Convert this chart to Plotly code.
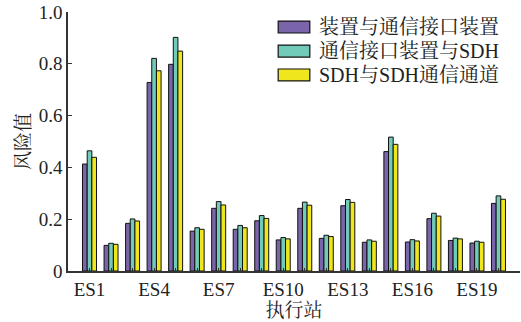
import plotly.graph_objects as go

stations = [f"ES{i}" for i in range(1, 21)]
positions = list(range(1, 21))

series_names = ["装置与通信接口装置", "通信接口装置与SDH", "SDH与SDH通信通道"]
device_iface = [0.413, 0.099, 0.184, 0.728, 0.798, 0.154, 0.242, 0.161, 0.194, 0.120,
                0.242, 0.126, 0.252, 0.111, 0.461, 0.112, 0.202, 0.118, 0.108, 0.261]
iface_sdh = [0.464, 0.107, 0.201, 0.821, 0.902, 0.167, 0.268, 0.176, 0.214, 0.129,
             0.266, 0.138, 0.276, 0.120, 0.517, 0.121, 0.223, 0.127, 0.115, 0.290]
sdh_channel = [0.439, 0.103, 0.193, 0.773, 0.849, 0.161, 0.255, 0.167, 0.203, 0.124,
               0.254, 0.133, 0.265, 0.115, 0.489, 0.116, 0.212, 0.124, 0.111, 0.277]
colors = ["#7B65AA", "#72CBB9", "#F0E61E"]

tick_text = [s if (i % 3 == 0) else "" for i, s in enumerate(stations)]

font_family = "Liberation Serif, Noto Serif CJK SC, Noto Sans CJK SC"

fig = go.Figure()
for name, vals, col in zip(series_names, [device_iface, iface_sdh, sdh_channel], colors):
    fig.add_trace(go.Bar(
        x=positions, y=vals, name=name, showlegend=False,
        marker=dict(color=col, line=dict(color="#111111", width=1)),
    ))

# Legend drawn as wide rectangular swatches with labels (paper coordinates)
legend_rows_y = [0.942, 0.849, 0.757]
sw_x0, sw_x1, sw_h = 0.465, 0.535, 0.046
for name, col, yc in zip(series_names, colors, legend_rows_y):
    fig.add_shape(type="rect", xref="paper", yref="paper",
                  x0=sw_x0, x1=sw_x1, y0=yc - sw_h / 2, y1=yc + sw_h / 2,
                  fillcolor=col, line=dict(color="#111111", width=1.2))
    fig.add_annotation(xref="paper", yref="paper", x=0.551, y=yc,
                       xanchor="left", yanchor="middle", showarrow=False,
                       text=name, font=dict(family=font_family, size=20, color="#222222"))

fig.update_layout(
    width=521, height=322,
    margin=dict(l=68, r=1, t=12, b=51),
    paper_bgcolor="white", plot_bgcolor="white",
    barmode="group", bargap=0.35, bargroupgap=0,
    font=dict(family=font_family, size=19, color="#222222"),
    xaxis=dict(
        range=[0, 21], tickmode="array", tickvals=positions, ticktext=tick_text,
        ticks="inside", ticklen=3, tickcolor="#333333",
        showline=True, linecolor="#333333", linewidth=1.5,
        showgrid=False, zeroline=False,
        tickfont=dict(family=font_family, size=19),
        title=dict(text="执行站", standoff=0, font=dict(family=font_family, size=19)),
    ),
    yaxis=dict(
        range=[0, 1], tickmode="array",
        tickvals=[0, 0.2, 0.4, 0.6, 0.8, 1.0],
        ticktext=["0", "0.2", "0.4", "0.6", "0.8", "1.0"],
        ticks="inside", ticklen=4, tickcolor="#333333",
        showline=True, linecolor="#333333", linewidth=1.5,
        showgrid=False, zeroline=False,
        tickfont=dict(family=font_family, size=19),
        title=dict(text="风险值", standoff=3, font=dict(family=font_family, size=19)),
    ),
)

fig.write_html("out.html")
